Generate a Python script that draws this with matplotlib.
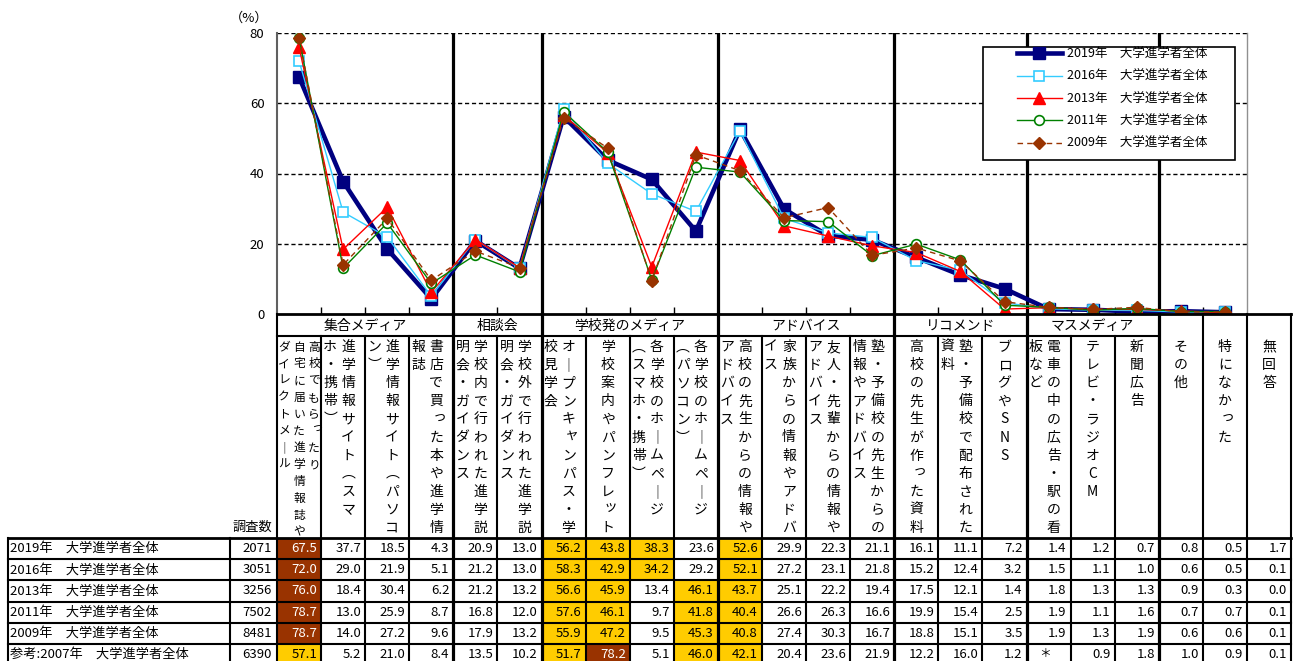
import matplotlib
matplotlib.use("Agg")
import matplotlib.pyplot as plt
import numpy as np
from matplotlib.patches import Rectangle

plt.rcParams['font.family'] = ['Noto Sans CJK JP', 'DejaVu Sans']

# ---- data ----
groups = ["集合メディア", "相談会", "学校発のメディア", "アドバイス", "リコメンド", "マスメディア"]
group_sizes = [4, 2, 4, 4, 3, 3]

# vertical header text, one string per printed column (rightmost first)
headers = [
    ["高校でもらったり", "自宅に届いた進学情報誌や", "ダイレクトメ｜ル"],
    ["進学情報サイト︵スマ", "ホ・携帯︶"],
    ["進学情報サイト︵パソコ", "ン︶"],
    ["書店で買った本や進学情", "報誌"],
    ["学校内で行われた進学説", "明会・ガイダンス"],
    ["学校外で行われた進学説", "明会・ガイダンス"],
    ["オ｜プンキャンパス・学", "校見学会"],
    ["学校案内やパンフレット"],
    ["各学校のホ｜ムペ｜ジ", "︵スマホ・携帯︶"],
    ["各学校のホ｜ムペ｜ジ", "︵パソコン︶"],
    ["高校の先生からの情報や", "アドバイス"],
    ["家族からの情報やアドバ", "イス"],
    ["友人・先輩からの情報や", "アドバイス"],
    ["塾・予備校の先生からの", "情報やアドバイス"],
    ["高校の先生が作った資料"],
    ["塾・予備校で配布された", "資料"],
    ["ブログやSNS"],
    ["電車の中の広告・駅の看", "板など"],
    ["テレビ・ラジオCM"],
    ["新聞広告"],
    ["その他"],
    ["特になかった"],
    ["無回答"],
]

row_labels = ["2019年　大学進学者全体", "2016年　大学進学者全体", "2013年　大学進学者全体",
              "2011年　大学進学者全体", "2009年　大学進学者全体", "参考:2007年　大学進学者全体"]
sample_sizes = [2071, 3051, 3256, 7502, 8481, 6390]

v2019 = [67.5, 37.7, 18.5, 4.3, 20.9, 13.0, 56.2, 43.8, 38.3, 23.6, 52.6, 29.9,
         22.3, 21.1, 16.1, 11.1, 7.2, 1.4, 1.2, 0.7, 0.8, 0.5, 1.7]
v2016 = [72.0, 29.0, 21.9, 5.1, 21.2, 13.0, 58.3, 42.9, 34.2, 29.2, 52.1, 27.2,
         23.1, 21.8, 15.2, 12.4, 3.2, 1.5, 1.1, 1.0, 0.6, 0.5, 0.1]
v2013 = [76.0, 18.4, 30.4, 6.2, 21.2, 13.2, 56.6, 45.9, 13.4, 46.1, 43.7, 25.1,
         22.2, 19.4, 17.5, 12.1, 1.4, 1.8, 1.3, 1.3, 0.9, 0.3, 0.0]
v2011 = [78.7, 13.0, 25.9, 8.7, 16.8, 12.0, 57.6, 46.1, 9.7, 41.8, 40.4, 26.6,
         26.3, 16.6, 19.9, 15.4, 2.5, 1.9, 1.1, 1.6, 0.7, 0.7, 0.1]
v2009 = [78.7, 14.0, 27.2, 9.6, 17.9, 13.2, 55.9, 47.2, 9.5, 45.3, 40.8, 27.4,
         30.3, 16.7, 18.8, 15.1, 3.5, 1.9, 1.3, 1.9, 0.6, 0.6, 0.1]
v2007 = [57.1, 5.2, 21.0, 8.4, 13.5, 10.2, 51.7, 78.2, 5.1, 46.0, 42.1, 20.4,
         23.6, 21.9, 12.2, 16.0, 1.2, None, 0.9, 1.8, 1.0, 0.9, 0.1]

table_rows = [v2019, v2016, v2013, v2011, v2009, v2007]
n_plot = 22  # 無回答 is not plotted

styles = [
    dict(color='#000080', lw=3.3, marker='s', ms=8, mfc='#000080', mec='#000080'),
    dict(color='#33CCFF', lw=1.0, marker='s', ms=6.5, mfc='white', mec='#33CCFF', mew=1.2),
    dict(color='#FF0000', lw=1.0, marker='^', ms=8.5, mfc='#FF0000', mec='#FF0000'),
    dict(color='#008000', lw=1.0, marker='o', ms=7, mfc='white', mec='#008000', mew=1.2),
    dict(color='#993300', lw=1.0, ls=(0, (4, 3)), marker='D', ms=6, mfc='#993300', mec='#993300'),
]

W, H = 1296, 661
fig = plt.figure(figsize=(W / 100, H / 100), dpi=100)

# ---- chart ----
x0, x1, ytop, ybot = 277, 1247, 33, 314
ax = fig.add_axes([x0 / W, (H - ybot) / H, (x1 - x0) / W, (ybot - ytop) / H])
x = np.arange(n_plot)
for vals, lab, st in zip(table_rows[:5], row_labels[:5], styles):
    ax.plot(x, vals[:n_plot], label=lab, zorder=3, **st)

ax.set_xlim(-0.5, n_plot - 0.5)
ax.set_ylim(0, 80)
ax.set_yticks([0, 20, 40, 60, 80])
ax.tick_params(axis='y', length=0, pad=9, labelsize=9.5)
ax.set_xticks(np.arange(1, n_plot) - 0.5)
ax.set_xticklabels([])
ax.tick_params(axis='x', direction='in', length=5, width=1, color='black')
for yv in [20, 40, 60, 80]:
    ax.axhline(yv, color='black', lw=1, ls=(0, (3, 2)), zorder=1)
bounds = np.cumsum(group_sizes)
for b in bounds:
    ax.axvline(b - 0.5, color='black', lw=2.3, zorder=1.5)
ax.spines['top'].set_visible(False)
ax.spines['bottom'].set_visible(False)
ax.spines['left'].set_color('#606060')
ax.spines['left'].set_linewidth(1.5)
ax.spines['right'].set_color('#909090')
ax.spines['right'].set_linewidth(1)
ax.text(-0.029, 1.053, "（%）", transform=ax.transAxes, ha='center', va='center', fontsize=9.5)

# legend box drawn separately so it can be wider than its content
ax.add_patch(Rectangle((0.7275, 0.548), 0.2601, 0.4032, transform=ax.transAxes,
                       facecolor='white', edgecolor='black', lw=1.2, zorder=4))
leg = ax.legend(loc='upper left', bbox_to_anchor=(0.7626, 0.948), fontsize=9,
                frameon=False, handlelength=3.6, labelspacing=0.75, borderpad=0,
                numpoints=1, handletextpad=0.45, borderaxespad=0)
leg.set_zorder(5)

# ---- table (pixel coordinates) ----
tab = fig.add_axes([0, 0, 1, 1])
tab.set_xlim(0, W)
tab.set_ylim(H, 0)
tab.axis('off')
tab.patch.set_visible(False)

colw = (x1 - x0) / n_plot
ncol = len(headers)
colx = [x0 + k * colw for k in range(ncol + 1)]
y_tab, y_grp, y_head = 314, 336, 538
row_h = 21.2


def line(xa, ya, xb, yb, lw=1.5):
    tab.plot([xa, xb], [ya, yb], color='black', lw=lw, solid_capstyle='projecting')


# cell fills: best value brown, next four gold
for r, vals in enumerate(table_rows):
    valid = [(v, k) for k, v in enumerate(vals) if v is not None]
    order = [k for v, k in sorted(valid, key=lambda t: -t[0])]
    ytop_r = y_head + r * row_h
    for rank, k in enumerate(order[:5]):
        fc = '#993300' if rank == 0 else '#FFCC00'
        tab.add_patch(Rectangle((colx[k], ytop_r), colw, row_h, facecolor=fc, edgecolor='none', zorder=0))
    for k, v in enumerate(vals):
        if v is None:
            tab.text(colx[k] + colw / 2 - 4, ytop_r + row_h / 2 - 1, "＊", ha='center', va='center', fontsize=8.5)
        else:
            tc = 'white' if k == order[0] else 'black'
            tab.text(colx[k + 1] - 4, ytop_r + row_h / 2, f"{v:.1f}", ha='right', va='center',
                     fontsize=9.5, color=tc)
    tab.text(10, ytop_r + row_h / 2, row_labels[r], ha='left', va='center', fontsize=9.5)
    tab.text(272, ytop_r + row_h / 2, str(sample_sizes[r]), ha='right', va='center', fontsize=9.5)

tab.text(272, 527, "調査数", ha='right', va='center', fontsize=9.5)

# horizontal rules
line(x0, y_tab, colx[-1], y_tab, 2)
line(x0, y_grp, colx[bounds[-1]], y_grp, 1.5)
line(8, y_head, colx[-1], y_head, 2)
for r in range(1, 6):
    line(8, y_head + r * row_h, colx[-1], y_head + r * row_h, 1.5)

# vertical rules
for k in range(ncol + 1):
    if k in bounds:
        line(colx[k], y_tab, colx[k], H + 5, 2.3)
    elif k == 0 or k > bounds[-1]:
        line(colx[k], y_tab, colx[k], H + 5, 1.5)
    else:
        line(colx[k], y_grp, colx[k], H + 5, 1.5)
line(8, y_head, 8, H + 5, 1.5)
line(230, y_head, 230, H + 5, 1.5)

# group labels
start = 0
for g, n in zip(groups, group_sizes):
    tab.text((colx[start] + colx[start + n]) / 2, (y_tab + y_grp) / 2 + 1, g,
             ha='center', va='center', fontsize=10)
    start += n

# vertical header text
small = set("ッっャゃュゅョょィぃァぁェぇォぉゥぅ")
for k, cols in enumerate(headers):
    cx = (colx[k] + colx[k + 1]) / 2
    if len(cols) == 3:
        fs, step, sp, shift = 8.5, 16.8, 15, 0
    else:
        fs, step, sp, shift = 10, 18.1, 18, -4
    n = len(cols)
    if n == 1:
        xs = [cx]
    else:
        c = cx + shift
        xs = [c + sp * ((n - 1) / 2 - i) for i in range(n)]
    for xc, s in zip(xs, cols):
        for j, ch in enumerate(s):
            dx, dy = (3, -3) if ch in small else (0, 0)
            tab.text(xc + dx, 347 + j * step + dy, ch, ha='center', va='center', fontsize=fs)

fig.savefig("out.png", dpi=100)
